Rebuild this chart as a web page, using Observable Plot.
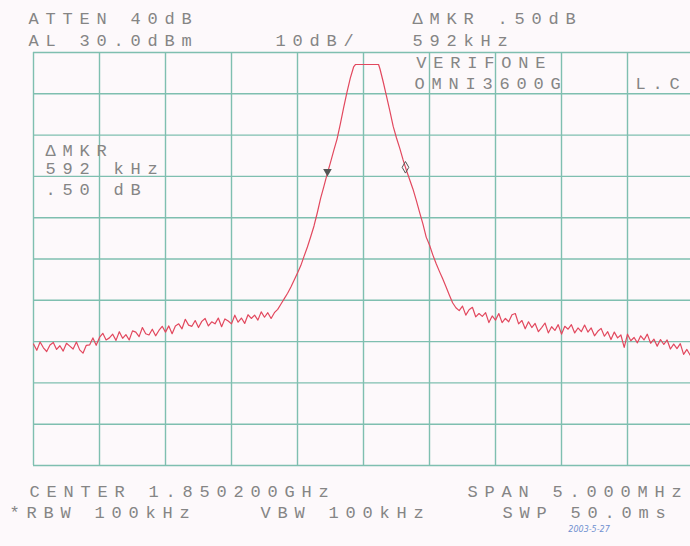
<!DOCTYPE html>
<html><head><meta charset="utf-8">
<script src="https://cdn.jsdelivr.net/npm/d3@7"></script>
<script src="https://cdn.jsdelivr.net/npm/@observablehq/plot@0.6"></script>
<style>
html,body{margin:0;padding:0;background:#fdf9fb;overflow:hidden;}
#chart svg g[font-family="Liberation Mono"] text{letter-spacing:6.8px;}
</style></head><body><div id="chart"></div>
<script>
// Offset from centre 1.850200 GHz, MHz
const freqMHz = [
-2.500,-2.475,-2.450,-2.425,-2.400,-2.375,-2.350,-2.325,-2.300,-2.275,
-2.250,-2.225,-2.200,-2.175,-2.150,-2.125,-2.100,-2.075,-2.050,-2.025,
-2.000,-1.975,-1.950,-1.925,-1.900,-1.875,-1.850,-1.825,-1.800,-1.775,
-1.750,-1.725,-1.700,-1.675,-1.650,-1.625,-1.600,-1.575,-1.550,-1.525,
-1.500,-1.475,-1.450,-1.425,-1.400,-1.375,-1.350,-1.325,-1.300,-1.275,
-1.250,-1.225,-1.200,-1.175,-1.150,-1.125,-1.100,-1.075,-1.050,-1.025,
-1.000,-0.975,-0.950,-0.925,-0.900,-0.875,-0.850,-0.825,-0.800,-0.775,
-0.750,-0.725,-0.700,-0.675,
-0.650,-0.625,-0.600,-0.575,-0.550,-0.525,-0.500,-0.475,-0.450,-0.425,
-0.400,-0.375,-0.350,-0.325,-0.300,-0.275,-0.250,-0.225,-0.200,-0.175,
-0.150,-0.125,-0.100,-0.075,-0.060,
0.114,0.125,0.150,0.175,0.200,0.225,0.250,0.275,0.300,0.325,
0.350,0.375,0.400,0.425,0.450,0.475,0.500,0.525,0.550,0.575,
0.600,0.625,0.650,0.675,0.700,
0.725,0.750,0.775,0.800,0.825,0.850,0.875,0.900,0.925,0.950,
0.975,1.000,1.025,1.050,1.075,1.100,1.125,1.150,1.175,1.200,
1.225,1.250,1.275,1.300,1.325,1.350,1.375,1.400,1.425,1.450,
1.475,1.500,1.525,1.550,1.575,1.600,1.625,1.650,1.675,1.700,
1.725,1.750,1.775,1.800,1.825,1.850,1.875,1.900,1.925,1.950,
1.975,2.000,2.025,2.050,2.075,2.100,2.125,2.150,2.175,2.200,
2.225,2.250,2.275,2.300,2.325,2.350,2.375,2.400,2.425,2.450,
2.475,2.500
];
// Trace level, dBm
const levelDbm = [
-40.6,-42.1,-40.1,-41.5,-42.4,-40.8,-40.2,-41.9,-41.0,-42.3,
-40.4,-41.1,-41.8,-40.1,-42.0,-42.8,-40.9,-40.8,-39.1,-40.9,
-39.0,-38.0,-39.6,-39.1,-38.2,-39.7,-37.6,-39.2,-38.3,-39.6,
-37.4,-37.7,-38.8,-36.6,-38.1,-38.4,-37.0,-38.6,-37.3,-36.3,
-37.7,-36.2,-38.1,-36.2,-35.7,-36.9,-34.6,-36.0,-36.3,-34.9,
-36.6,-35.1,-34.4,-36.2,-35.2,-35.7,-34.3,-36.4,-34.5,-35.0,
-35.7,-33.6,-35.3,-34.3,-35.6,-33.5,-34.4,-33.6,-34.8,-32.8,
-34.1,-33.0,-34.4,-33.0,
-32.2,-30.9,-29.6,-28.3,-26.8,-25.1,-23.4,-21.6,-19.3,-17.1,
-14.6,-12.0,-8.8,-5.3,-2.4,0.6,3.4,6.3,9.1,12.8,
16.7,20.4,23.8,26.5,27.1,
27.1,26.0,22.8,19.3,15.8,12.1,9.3,6.8,4.0,1.5,
-0.8,-3.1,-5.8,-8.7,-11.5,-14.7,-16.6,-19.0,-21.1,-23.0,
-24.8,-26.7,-28.7,-30.6,-31.8,
-32.5,-31.4,-33.6,-32.3,-31.7,-34.0,-33.2,-33.9,-33.0,-35.4,
-33.8,-34.8,-33.2,-35.4,-34.4,-35.2,-33.5,-33.2,-35.7,-34.9,
-36.9,-35.2,-36.6,-35.6,-37.6,-36.6,-35.5,-37.9,-36.4,-37.3,
-35.9,-38.2,-36.3,-37.0,-35.9,-37.9,-36.7,-37.6,-36.0,-37.7,
-36.7,-38.6,-37.5,-36.8,-38.7,-37.6,-39.5,-37.7,-39.1,-38.4,
-41.4,-38.2,-39.8,-39.0,-40.3,-38.6,-39.6,-38.2,-40.4,-39.4,
-41.1,-39.5,-40.7,-39.6,-41.8,-40.6,-41.7,-40.5,-43.1,-41.9,
-43.3,-42.3
];

// Grid divisions: 0.5 MHz/div, 10 dB/div, reference level 30 dBm
const gridFreq = [-2.5,-2.0,-1.5,-1.0,-0.5,0,0.5,1.0,1.5,2.0,2.5];
const gridLevel = [-70,-60,-50,-40,-30,-20,-10,0,10,20,30];

// Markers (reference marker, delta marker)
const markerFreq = [-0.273, 0.318];
const markerLevel = [1.2, 2.2];

// Annotation texts, anchored in frequency / level coordinates
const labelText = [
  "ATTEN 40dB", "AL 30.0dBm", "10dB/", "\u0394MKR .50dB", "592kHz",
  "VERIFONE", "OMNI3600G", "L.C",
  "\u0394MKR", "592 kHz", ".50 dB",
  "CENTER 1.850200GHz", "SPAN 5.000MHz",
  "*RBW 100kHz", "VBW 100kHz", "SWP 50.0ms"
];
const labelFreq = [
  -2.538, -2.538, -0.667, 0.371, 0.371,
  0.40, 0.386, 2.06,
  -2.409, -2.409, -2.409,
  -2.530, 0.788,
  -2.682, -0.780, 1.053
];
const labelLevel = [
  38.2, 32.9, 32.9, 38.2, 32.9,
  27.6, 22.5, 22.5,
  6.3, 1.9, -3.2,
  -76.3, -76.3,
  -81.4, -81.4, -81.4
];
const signText = ["2003-5-27"];
const signFreq = [1.552];
const signLevel = [-85.6];

const trace = freqMHz.map((f, i) => ({f, v: levelDbm[i]}));
const markers = markerFreq.map((f, i) => ({f, v: markerLevel[i], k: i}));
const labels = labelText.map((t, i) => ({t, f: labelFreq[i], v: labelLevel[i]}));
const sign = signText.map((t, i) => ({t, f: signFreq[i], v: signLevel[i]}));

const chart = Plot.plot({
  width: 690,
  height: 546,
  marginLeft: 33,
  marginRight: -3,
  marginTop: 52,
  marginBottom: 81,
  style: {background: "#fdf9fb"},
  x: {domain: [-2.5, 2.5], axis: null},
  y: {domain: [-70, 30], axis: null},
  marks: [
    Plot.ruleX(gridFreq, {stroke: "#7fbfb0", strokeWidth: 1.4}),
    Plot.ruleY(gridLevel, {stroke: "#7fbfb0", strokeWidth: 1.4}),
    Plot.line(trace, {x: "f", y: "v", stroke: "#e2485e", strokeWidth: 1.2, curve: "linear"}),
    Plot.dot(markers.filter(d => d.k === 0), {x: "f", y: "v", symbol: "triangle", rotate: 180, r: 3.2, fill: "#555", stroke: "none"}),
    Plot.dot(markers.filter(d => d.k === 1), {x: "f", y: "v", symbol: "diamond", r: 3.5, fill: "none", stroke: "#555", strokeWidth: 1}),
    Plot.text(labels, {x: "f", y: "v", text: "t", textAnchor: "start", lineAnchor: "middle",
      fontFamily: "Liberation Mono", fontSize: 17, fill: "#858585"}),
    Plot.text(sign, {x: "f", y: "v", text: "t", textAnchor: "start", lineAnchor: "middle",
      fontFamily: "DejaVu Sans", fontStyle: "italic", fontSize: 8, fill: "#7090d0"})
  ]
});
document.getElementById("chart").appendChild(chart);
</script>
</body></html>
